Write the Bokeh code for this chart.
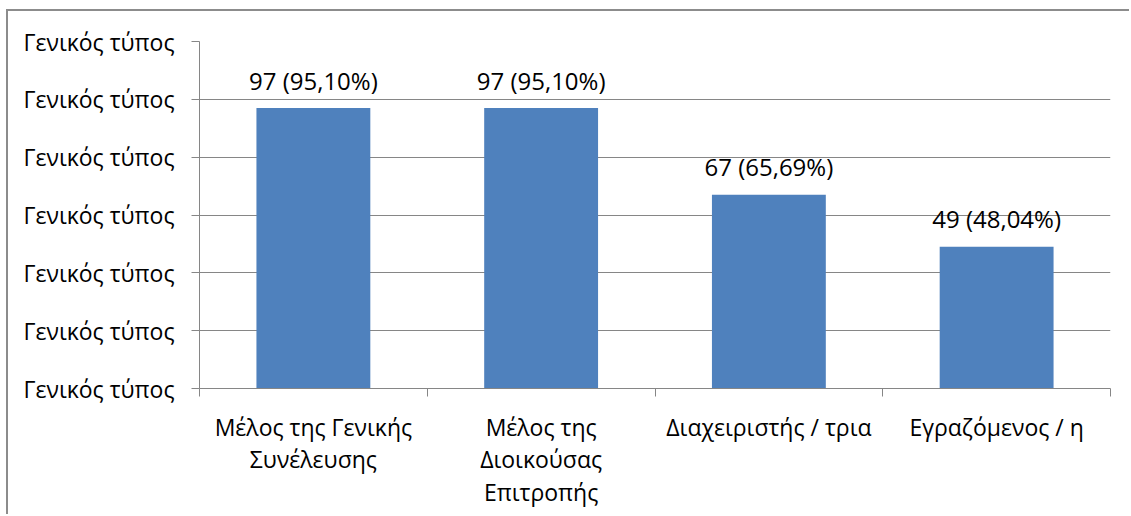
from bokeh.plotting import figure
from bokeh.models import ColumnDataSource, FixedTicker, Range1d
from bokeh.core.properties import value
from bokeh.embed import file_html
from bokeh.resources import INLINE

categories = ["Μέλος της Γενικής\nΣυνέλευσης", "Μέλος της\nΔιοικούσας\nΕπιτροπής",
              "Διαχειριστής / τρια", "Εγραζόμενος / η"]
counts = [97, 97, 67, 49]
percents = ["95,10%", "95,10%", "65,69%", "48,04%"]
y_ticks = [0, 20, 40, 60, 80, 100, 120]
y_tick_label = "Γενικός τύπος"

FONT = "Open Sans"
GRAY = "#868686"
AX_FS = "23px"

xs = [i + 0.5 for i in range(len(categories))]
labels = [f"{c} ({p})" for c, p in zip(counts, percents)]
src = ColumnDataSource(dict(x=xs, top=counts, label=labels))

p = figure(width=1123, height=505, output_backend="svg", toolbar_location=None,
           x_range=Range1d(0, len(categories)), y_range=Range1d(0, 120),
           min_border_left=191, min_border_right=21, min_border_top=30, min_border_bottom=128)
p.styles = {"margin-left": "6px", "margin-top": "9px",
            "border-left": "2px solid #8c8c8c", "border-top": "2px solid #8c8c8c"}
p.outline_line_color = None
p.background_fill_color = "white"

p.vbar(x="x", top="top", width=0.5, bottom=0, source=src, fill_color="#4F81BD", line_color=None)
p.text(x="x", y="top", text="label", source=src, text_align="center", text_baseline="alphabetic",
       y_offset=-28, text_font=value(FONT), text_font_size="24px", text_color="black")

# y axis
p.yaxis.ticker = FixedTicker(ticks=y_ticks)
p.yaxis.major_label_overrides = {t: y_tick_label for t in y_ticks}
p.yaxis.major_label_text_font = FONT
p.yaxis.major_label_text_font_size = AX_FS
p.yaxis.major_label_text_color = "black"
p.yaxis.major_label_standoff = 17
p.yaxis.major_tick_out = 8
p.yaxis.major_tick_in = 0
p.yaxis.minor_tick_line_color = None
p.yaxis.axis_line_color = GRAY
p.yaxis.major_tick_line_color = GRAY

# x axis: labels at centers, tick marks at category boundaries
p.xaxis.ticker = FixedTicker(ticks=xs, minor_ticks=list(range(len(categories) + 1)))
p.xaxis.major_label_overrides = {x: c for x, c in zip(xs, categories)}
p.xaxis.major_label_text_font = FONT
p.xaxis.major_label_text_font_size = AX_FS
p.xaxis.major_label_text_color = "black"
p.xaxis.major_label_text_line_height = 1.02
p.xaxis.major_label_standoff = 14
p.xaxis.major_tick_line_color = None
p.xaxis.minor_tick_out = 8
p.xaxis.minor_tick_in = 0
p.xaxis.minor_tick_line_color = GRAY
p.xaxis.axis_line_color = GRAY

p.xgrid.grid_line_color = None
p.ygrid.ticker = FixedTicker(ticks=y_ticks)
p.ygrid.grid_line_color = GRAY

open("out.html", "w").write(file_html(p, INLINE))
